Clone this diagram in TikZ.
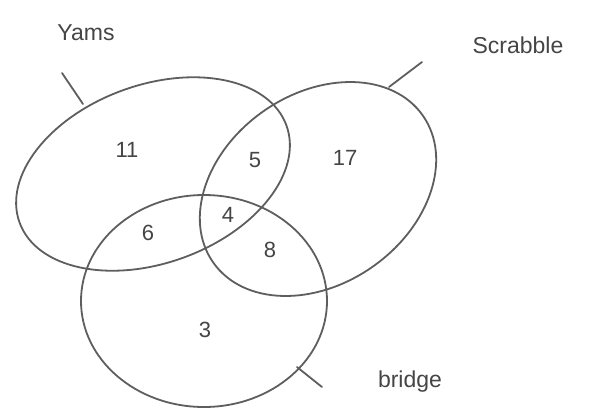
\documentclass[tikz,border=0pt]{standalone}
\usepackage{fontspec}
\setmainfont{Liberation Sans}
\usetikzlibrary{shapes.geometric}
\definecolor{pen}{HTML}{5E5E5E}
\definecolor{ink}{HTML}{454545}
\begin{document}
\begin{tikzpicture}[x=1pt,y=-1pt,
  setline/.style={draw=pen,line width=1.8pt,ellipse,inner sep=0pt},
  num/.style={text=ink,font=\fontsize{22}{22}\selectfont},
  lbl/.style={text=ink,font=\fontsize{23}{23}\selectfont},
  tick/.style={draw=pen,line width=1.8pt,line cap=round}]
\useasboundingbox (0,0) rectangle (594,413);
\fill[white] (0,0) rectangle (594,413);
% sets
\node[setline,minimum width=284pt,minimum height=178pt,rotate=20] (yams) at (153,174) {};
\node[setline,minimum width=256pt,minimum height=190pt,rotate=35] (scrab) at (318,189) {};
\node[setline,minimum width=246pt,minimum height=212pt] (bridge) at (204,301) {};
% labels
\node[lbl] (ly) at (86,33) {Yams};
\node[lbl] (ls) at (518,45) {Scrabble};
\node[lbl] (lb) at (410,382) {bridge};
% ticks
\coordinate (ty1) at (62,73);
\coordinate (ty2) at (83,104);
\coordinate (ts1) at (422,62);
\coordinate (ts2) at (389,87);
\coordinate (tb1) at (297,367);
\coordinate (tb2) at (322,387);
\draw[tick] (ty1) -- (ty2);
\draw[tick] (ts1) -- (ts2);
\draw[tick] (tb1) -- (tb2);
% counts
\node[num] (n11) at (127,150) {11};
\node[num] (n5) at (255,160) {5};
\node[num] (n17) at (345,158) {17};
\node[num] (n6) at (148,233) {6};
\node[num] (n4) at (228,215) {4};
\node[num] (n8) at (270,250) {8};
\node[num] (n3) at (205,330) {3};
\end{tikzpicture}
\end{document}
